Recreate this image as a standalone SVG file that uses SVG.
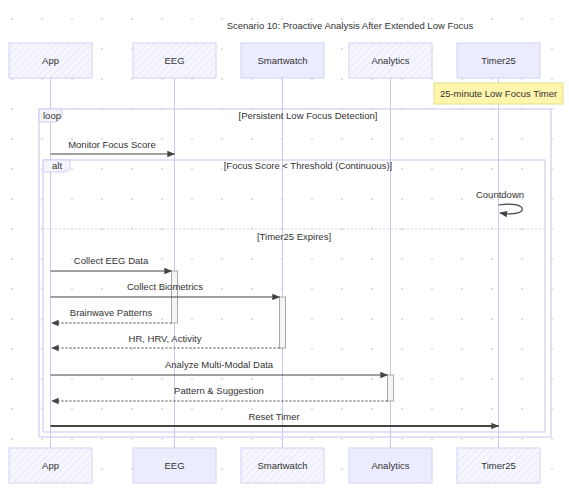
<svg xmlns="http://www.w3.org/2000/svg" width="569" height="497" viewBox="0 0 569 497">
<style>
text{font-family:"Liberation Sans",Arial,sans-serif;fill:#333;}
.actor rect{stroke:#d2d2f5;stroke-width:1;}
.actor text{font-size:9.5px;text-anchor:middle;dominant-baseline:middle;}
.hatch{fill:url(#hatch);}
.solid{fill:#ececff;}
.life{stroke:#c8c8f4;stroke-width:1;}
.frame{fill:none;stroke:#cfcff2;stroke-width:1.2;}
.flabel{fill:#f4f4fc;stroke:#cfcff2;stroke-width:1;}
.ftext{font-size:9.5px;}
.ftitle{font-size:9.5px;text-anchor:middle;}
.msg{stroke:#444;stroke-width:1.2;fill:none;}
.ret{stroke:#444;stroke-width:1.2;fill:none;stroke-dasharray:2,2;}
.mtext{font-size:9.5px;text-anchor:middle;}
.act{fill:#f5f5f5;stroke:#aaa;stroke-width:1;}
</style>
<defs>
<pattern id="dots" width="30" height="30" patternUnits="userSpaceOnUse" x="-3" y="4">
<circle cx="15" cy="15" r="1.3" fill="#e2e2e2"/>
</pattern>
<pattern id="hatch" width="5" height="5" patternUnits="userSpaceOnUse" patternTransform="rotate(45)">
<rect width="5" height="5" fill="#f6f6ff"/>
<line x1="0" y1="0" x2="0" y2="5" stroke="#e0e0f8" stroke-width="1.2"/>
</pattern>
<marker id="arr" viewBox="0 0 10 10" refX="9" refY="5" markerWidth="8" markerHeight="8" markerUnits="userSpaceOnUse" orient="auto">
<path d="M0,1 L10,5 L0,9 z" fill="#444"/>
</marker>
</defs>
<rect width="569" height="497" fill="#fff"/>
<rect width="569" height="497" fill="url(#dots)"/>

<text x="350" y="29" style="font-size:9.5px;text-anchor:middle">Scenario 10: Proactive Analysis After Extended Low Focus</text>

<g id="lifelines">
<line class="life" x1="50.5" y1="78" x2="50.5" y2="448"/>
<line class="life" x1="174.5" y1="78" x2="174.5" y2="448"/>
<line class="life" x1="282.5" y1="78" x2="282.5" y2="448"/>
<line class="life" x1="390.5" y1="78" x2="390.5" y2="448"/>
<line class="life" x1="498.5" y1="78" x2="498.5" y2="448"/>
</g>

<g id="actor-app-top" class="actor"><rect class="hatch" x="9" y="43" width="83" height="35"/><text x="50.5" y="61">App</text></g>
<g id="actor-eeg-top" class="actor"><rect class="hatch" x="133" y="43" width="83" height="35"/><text x="174.5" y="61">EEG</text></g>
<g id="actor-smartwatch-top" class="actor"><rect class="solid" x="241" y="43" width="83" height="35"/><text x="282.5" y="61">Smartwatch</text></g>
<g id="actor-analytics-top" class="actor"><rect class="hatch" x="349" y="43" width="83" height="35"/><text x="390.5" y="61">Analytics</text></g>
<g id="actor-timer25-top" class="actor"><rect class="solid" x="457" y="43" width="83" height="35"/><text x="498.5" y="61">Timer25</text></g>

<g id="note-timer">
<rect x="434" y="83" width="129" height="21" fill="#fff5ad" stroke="#e2e08a" stroke-width="1"/>
<text x="498.5" y="97" style="font-size:9.5px;text-anchor:middle">25-minute Low Focus Timer</text>
</g>

<g id="frame-loop">
<rect class="frame" x="39" y="109" width="512" height="328"/>
<path class="flabel" d="M39,109 H62 V117 L57,122 H39 Z"/>
<text class="ftext" x="43" y="119">loop</text>
<text class="ftitle" x="308" y="119">[Persistent Low Focus Detection]</text>
</g>

<g id="frame-alt">
<rect class="frame" x="43" y="160" width="502" height="272"/>
<path class="flabel" d="M43,160 H70 V168 L66,172 H43 Z"/>
<text class="ftext" x="52" y="169">alt</text>
<text class="ftitle" x="308" y="169">[Focus Score &lt; Threshold (Continuous)]</text>
<line x1="43" y1="229" x2="545" y2="229" stroke="#cfcff2" stroke-width="1" stroke-dasharray="2,2"/>
<text class="ftitle" x="294" y="240">[Timer25 Expires]</text>
</g>

<g id="activations">
<rect class="act" x="171.5" y="271" width="6" height="52"/>
<rect class="act" x="279.5" y="297" width="6" height="51"/>
<rect class="act" x="387.5" y="375" width="6" height="26"/>
</g>

<g id="connectors">
<line class="msg" x1="50.5" y1="154" x2="174.5" y2="154" marker-end="url(#arr)"/>
<text class="mtext" x="112" y="148">Monitor Focus Score</text>

<path class="msg" d="M498.5,205 C530,200 530,218 500,213" marker-end="url(#arr)"/>
<text class="mtext" x="500" y="198">Countdown</text>

<line class="msg" x1="50.5" y1="271" x2="171.5" y2="271" marker-end="url(#arr)"/>
<text class="mtext" x="111" y="264">Collect EEG Data</text>

<line class="msg" x1="50.5" y1="297" x2="279.5" y2="297" marker-end="url(#arr)"/>
<text class="mtext" x="165" y="290">Collect Biometrics</text>

<line class="ret" x1="171.5" y1="323" x2="51.5" y2="323" marker-end="url(#arr)"/>
<text class="mtext" x="111" y="316">Brainwave Patterns</text>

<line class="ret" x1="279.5" y1="348" x2="51.5" y2="348" marker-end="url(#arr)"/>
<text class="mtext" x="165" y="342">HR, HRV, Activity</text>

<line class="msg" x1="50.5" y1="375" x2="387.5" y2="375" marker-end="url(#arr)"/>
<text class="mtext" x="219" y="368">Analyze Multi-Modal Data</text>

<line class="ret" x1="387.5" y1="401" x2="51.5" y2="401" marker-end="url(#arr)"/>
<text class="mtext" x="219" y="394">Pattern &amp; Suggestion</text>

<line class="msg" x1="50.5" y1="426" x2="498.5" y2="426" style="stroke-width:1.8" marker-end="url(#arr)"/>
<text class="mtext" x="274" y="420">Reset Timer</text>
</g>

<g id="actor-app-bottom" class="actor"><rect class="hatch" x="9" y="448" width="83" height="35"/><text x="50.5" y="466">App</text></g>
<g id="actor-eeg-bottom" class="actor"><rect class="solid" x="133" y="448" width="83" height="35"/><text x="174.5" y="466">EEG</text></g>
<g id="actor-smartwatch-bottom" class="actor"><rect class="hatch" x="241" y="448" width="83" height="35"/><text x="282.5" y="466">Smartwatch</text></g>
<g id="actor-analytics-bottom" class="actor"><rect class="solid" x="349" y="448" width="83" height="35"/><text x="390.5" y="466">Analytics</text></g>
<g id="actor-timer25-bottom" class="actor"><rect class="hatch" x="457" y="448" width="83" height="35"/><text x="498.5" y="466">Timer25</text></g>
</svg>
